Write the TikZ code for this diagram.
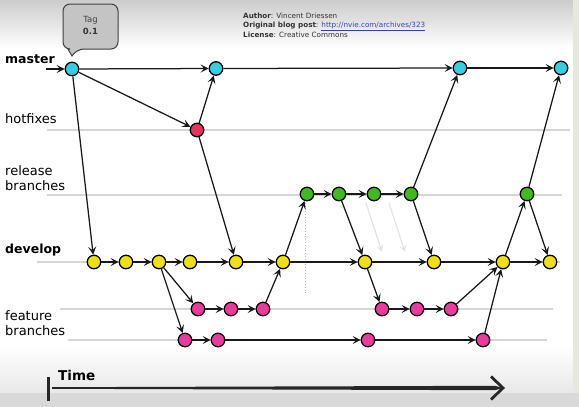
\documentclass[tikz,border=0pt]{standalone}
\usepackage{fontspec}
\setmainfont{DejaVu Sans}
\usetikzlibrary{arrows.meta}
\definecolor{cmaster}{HTML}{33D0E2}
\definecolor{chot}{HTML}{E8335A}
\definecolor{crel}{HTML}{3FBB1E}
\definecolor{cdev}{HTML}{F0E010}
\definecolor{cfeat}{HTML}{EE3A9E}
\definecolor{tagfill}{HTML}{C4C4C4}
\definecolor{lanegray}{HTML}{D6D6D6}
\definecolor{linkblue}{HTML}{3344AA}
\definecolor{rightstrip}{HTML}{E6E9DA}
\begin{document}
\begin{tikzpicture}[x=1pt,y=-1pt,
  commit/.style={circle,draw=black,line width=1.3pt,minimum size=13.5pt,inner sep=0pt},
  mc/.style={commit,fill=cmaster},
  hc/.style={commit,fill=chot},
  rc/.style={commit,fill=crel},
  dc/.style={commit,fill=cdev},
  fc/.style={commit,fill=cfeat},
  arr/.style={line width=1.25pt,black!90,-{Stealth[length=8pt,width=8pt,inset=3.5pt]}},
  lane/.style={draw=lanegray,line width=1.3pt},
  lbl/.style={anchor=base west,inner sep=0pt,font=\fontsize{13}{15}\selectfont},
  blbl/.style={anchor=base west,inner sep=0pt,font=\fontsize{12.5}{15}\bfseries\selectfont},
  ghost/.style={draw=gray!22,line width=1.1pt,-{Stealth[length=7pt,width=7pt,inset=3pt]}}
]
\useasboundingbox (0,0) rectangle (579,407);
% background
\fill[white] (0,0) rectangle (579,407);
\shade[top color=gray!40,bottom color=white] (0,0) rectangle (579,48);
\shade[top color=white,bottom color=gray!18] (0,345) rectangle (579,393);
\fill[gray!30] (0,393) rectangle (579,407);
\fill[rightstrip] (573,0) rectangle (579,393);

% lane lines
\draw[lane] (47,130) -- (570,130);
\draw[lane] (47,195) -- (562,195);
\draw[lane] (37,262) -- (560,262);
\draw[lane] (60,309) -- (553,309);
\draw[lane] (68,340) -- (547,340);
\draw[gray!55,dotted,line width=0.8pt] (305,200) -- (305,295);

% labels
\node[blbl] (lmaster) at (5,63) {master};
\node[lbl] (lhot) at (5,123) {hotfixes};
\node[lbl] (lrel1) at (5,175) {release};
\node[lbl] (lrel2) at (5,190) {branches};
\node[blbl] (ldev) at (5,253) {develop};
\node[lbl] (lfeat1) at (5,320) {feature};
\node[lbl] (lfeat2) at (5,335) {branches};

% author block
\node[anchor=base west,inner sep=0pt,text=black!80,font=\fontsize{7.2}{9.4}\selectfont] (auth1) at (243,18) {\textbf{Author}: Vincent Driessen};
\node[anchor=base west,inner sep=0pt,text=black!80,font=\fontsize{7.2}{9.4}\selectfont] (auth2) at (243,27.5) {\textbf{Original blog post}: \textcolor{linkblue}{\underline{http://nvie.com/archives/323}}};
\node[anchor=base west,inner sep=0pt,text=black!80,font=\fontsize{7.2}{9.4}\selectfont] (auth3) at (243,37) {\textbf{License}: Creative Commons};

% tag callout
\draw[draw=black!75,line width=1pt,fill=tagfill] (68,49) [rounded corners=7pt] -- (63,49) -- (63,4) -- (118,4) -- (118,49) -- (77,49) [sharp corners] -- (72,56) -- cycle;
\node[anchor=base,inner sep=0pt,text=black!75,font=\fontsize{8.5}{10}\selectfont] (tag1) at (90.5,22.5) {Tag};
\node[anchor=base,inner sep=0pt,text=black!80,font=\fontsize{8.5}{10}\bfseries\selectfont] (tag2) at (90.5,34) {0.1};

% commits
\node[mc] (m1) at (72,69) {};
\node[mc] (m2) at (216,68.5) {};
\node[mc] (m3) at (460,68) {};
\node[mc] (m4) at (561,68) {};
\node[hc] (h1) at (197,130) {};
\node[rc] (r1) at (307,194) {};
\node[rc] (r2) at (339,194) {};
\node[rc] (r3) at (374,194) {};
\node[rc] (r4) at (411,194) {};
\node[rc] (r5) at (527,194) {};
\node[dc] (d1) at (94,262) {};
\node[dc] (d2) at (126,262) {};
\node[dc] (d3) at (159,262) {};
\node[dc] (d4) at (190,262) {};
\node[dc] (d5) at (236,262) {};
\node[dc] (d6) at (283,262) {};
\node[dc] (d7) at (365,262) {};
\node[dc] (d8) at (434,262) {};
\node[dc] (d9) at (503,262) {};
\node[dc] (d10) at (550,262) {};
\node[fc] (f1) at (198,309) {};
\node[fc] (f2) at (231,309) {};
\node[fc] (f3) at (263,309) {};
\node[fc] (f4) at (382,309) {};
\node[fc] (f5) at (417,309) {};
\node[fc] (f6) at (451,309) {};
\node[fc] (g1) at (185,340) {};
\node[fc] (g2) at (218,340) {};
\node[fc] (g3) at (368,340) {};
\node[fc] (g4) at (483,340) {};

% ghost arrows
\coordinate (gh1a) at (366,203); \coordinate (gh1b) at (382,252);
\coordinate (gh2a) at (389,203); \coordinate (gh2b) at (405,252);
\draw[ghost] (gh1a) -- (gh1b);
\draw[ghost] (gh2a) -- (gh2b);

% connectors
\coordinate (mstart) at (46,69);
\draw[arr] (mstart) -- (m1);
\draw[arr] (m1) -- (m2);
\draw[arr] (m1) -- (h1);
\draw[arr] (h1) -- (m2);
\draw[arr] (m1) -- (d1);
\draw[arr] (h1) -- (d5);
\draw[arr] (m2) -- (m3);
\draw[arr] (m3) -- (m4);
\draw[arr] (r4) -- (m3);
\draw[arr] (r5) -- (m4);
\draw[arr] (d1) -- (d2);
\draw[arr] (d2) -- (d3);
\draw[arr] (d3) -- (d4);
\draw[arr] (d4) -- (d5);
\draw[arr] (d5) -- (d6);
\draw[arr] (d3) -- (f1);
\draw[arr] (d3) -- (g1);
\draw[arr] (f1) -- (f2);
\draw[arr] (f2) -- (f3);
\draw[arr] (f3) -- (d6);
\draw[arr] (g1) -- (g2);
\draw[arr] (g2) -- (g3);
\draw[arr] (g3) -- (g4);
\draw[arr] (g4) -- (d9);
\draw[arr] (d6) -- (r1);
\draw[arr] (r1) -- (r2);
\draw[arr] (r2) -- (r3);
\draw[arr] (r3) -- (r4);
\draw[arr] (d6) -- (d7);
\draw[arr] (r2) -- (d7);
\draw[arr] (d7) -- (d8);
\draw[arr] (d7) -- (f4);
\draw[arr] (f4) -- (f5);
\draw[arr] (f5) -- (f6);
\draw[arr] (f6) -- (d9);
\draw[arr] (r4) -- (d8);
\draw[arr] (d8) -- (d9);
\draw[arr] (d9) -- (r5);
\draw[arr] (r5) -- (d10);
\draw[arr] (d9) -- (d10);

% time arrow
\node[anchor=base west,inner sep=0pt,font=\fontsize{13.5}{15}\bfseries\selectfont] (ltime) at (58,380) {Time};
\coordinate (tick1) at (48,377);
\coordinate (tick2) at (48,401);
\draw[line width=3pt,black!85] (tick1) -- (tick2);
\coordinate (t0) at (52,388);
\coordinate (t1) at (503,388);
\fill[black!85] (52,387.2) -- (495,385.8) -- (503,388) -- (495,390.2) -- (52,388.8) -- cycle;
\draw[line width=2.8pt,black!85,line join=miter] (491,376.5) -- (t1) -- (491,399.5);
\end{tikzpicture}
\end{document}
